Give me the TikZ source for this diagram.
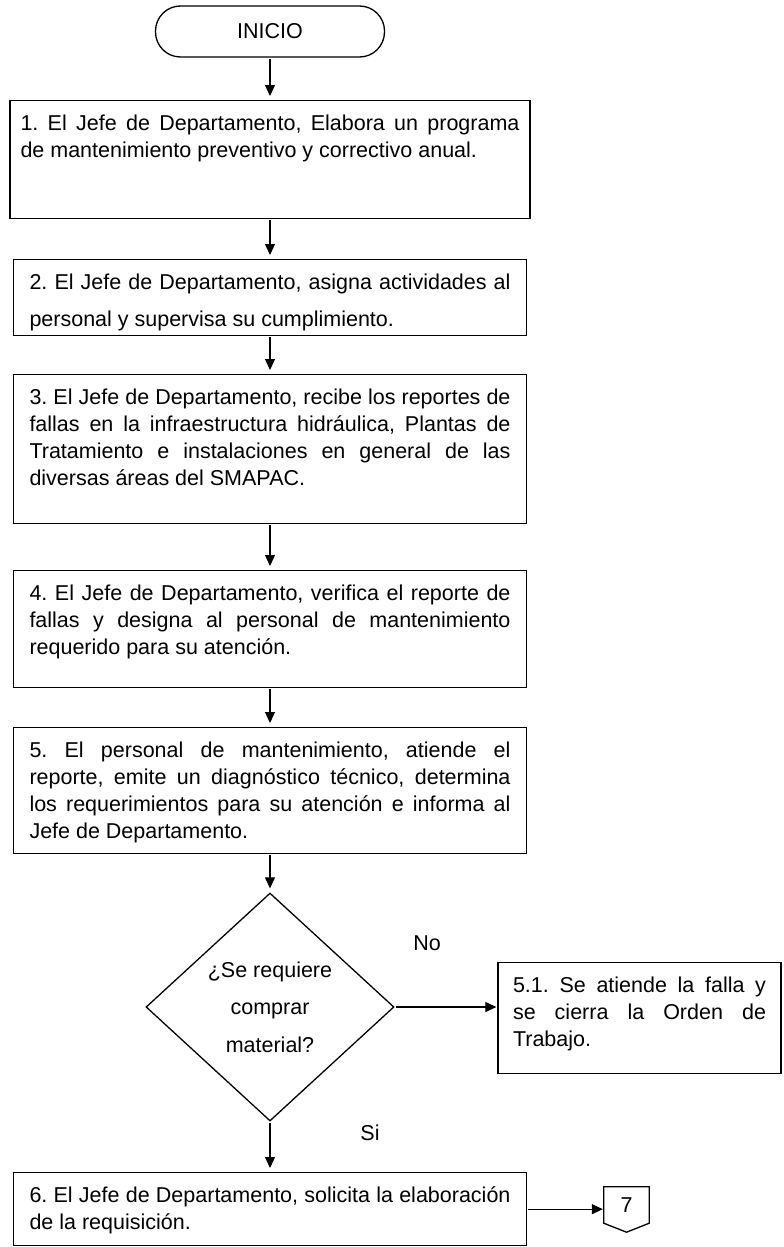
\documentclass[tikz,border=0pt]{standalone}
\usepackage{fontspec}
\setmainfont{Liberation Sans}
\usetikzlibrary{arrows.meta,shapes.geometric}
\tolerance=10000
\hbadness=10000
\frenchspacing

\begin{document}
\begin{tikzpicture}[
  x=1pt, y=-1pt,
  terminal/.style={rectangle, draw, line width=1.3pt, rounded corners=25pt, minimum width=229pt, minimum height=51pt, font=\fontsize{21.5}{27}\selectfont},
  process/.style={rectangle, draw, line width=1.3pt, anchor=north, text width=481pt, align=justify, inner xsep=16pt, inner ysep=0pt, text height=30pt, font=\fontsize{21.5}{27}\selectfont},
  decision/.style={diamond, draw, line width=1.3pt, minimum width=248pt, minimum height=228pt, inner sep=0pt, align=center, font=\fontsize{21.5}{37.5}\selectfont},
  connector/.style={rectangle, minimum width=45pt, minimum height=36pt, inner sep=0pt, font=\fontsize{21.5}{27}\selectfont},
  answer/.style={font=\fontsize{21.5}{27}\selectfont},
  flow/.style={line width=1.1pt, -{Triangle[length=11pt, width=10pt]}, shorten <=1pt, shorten >=1pt}
]
  \useasboundingbox (0,0) rectangle (784,1247);
  \node[terminal] (I) at (270, 31.5) {INICIO};
  \node[process, text width=499pt, inner xsep=10.5pt, text depth=88pt] (P1) at (270, 100)
    {1. El Jefe de Departamento, Elabora un programa\linebreak de mantenimiento preventivo y correctivo anual.};
  \node[process, text depth=46pt, font=\fontsize{21.5}{37}\selectfont] (P2) at (270, 259)
    {2. El Jefe de Departamento, asigna actividades al\linebreak personal y supervisa su cumplimiento.};
  \node[process, text depth=119pt] (P3) at (270, 374)
    {3. El Jefe de Departamento, recibe los reportes de\linebreak fallas en la infraestructura hidráulica, Plantas de\linebreak Tratamiento e instalaciones en general de las\linebreak diversas áreas del SMAPAC.};
  \node[process, text depth=87pt] (P4) at (270, 570)
    {4. El Jefe de Departamento, verifica el reporte de\linebreak fallas y designa al personal de mantenimiento\linebreak requerido para su atención.};
  \node[process, text depth=96pt] (P5) at (270, 727)
    {5. El personal de mantenimiento, atiende el\linebreak reporte, emite un diagnóstico técnico, determina\linebreak los requerimientos para su atención e informa al\linebreak Jefe de Departamento.};
  \node[decision] (D) at (270, 1007) {¿Se requiere\\comprar\\material?};
  \node[process, text width=253pt, inner xsep=15pt, text depth=81pt] (P51) at (639.5, 962)
    {5.1. Se atiende la falla y\linebreak se cierra la Orden de\linebreak Trabajo.};
  \node[process, text depth=43pt] (P6) at (270, 1172)
    {6. El Jefe de Departamento, solicita la elaboración\linebreak de la requisición.};
  \node[connector] (C7) at (626.5, 1205) {7};
  \draw[line width=1.3pt] (C7.north west) -- (C7.north east) -- (C7.south east)
    -- ([yshift=-9pt]C7.south) -- (C7.south west) -- cycle;
  \node[answer] (No) at (427, 943) {No};
  \node[answer] (Si) at (370, 1133) {Si};
  % main line
  \draw[flow, shorten >=4pt] (I) -- (P1);
  \foreach \a/\b in {P1/P2, P2/P3, P3/P4, P4/P5, P5/D, D/P6}
    \draw[flow, shorten >=4pt] (\a) -- (\b);
  \draw[flow] (D) -- (D -| P51.west);
  \draw[flow] (P6) -- (P6 -| C7.west);
\end{tikzpicture}
\end{document}
